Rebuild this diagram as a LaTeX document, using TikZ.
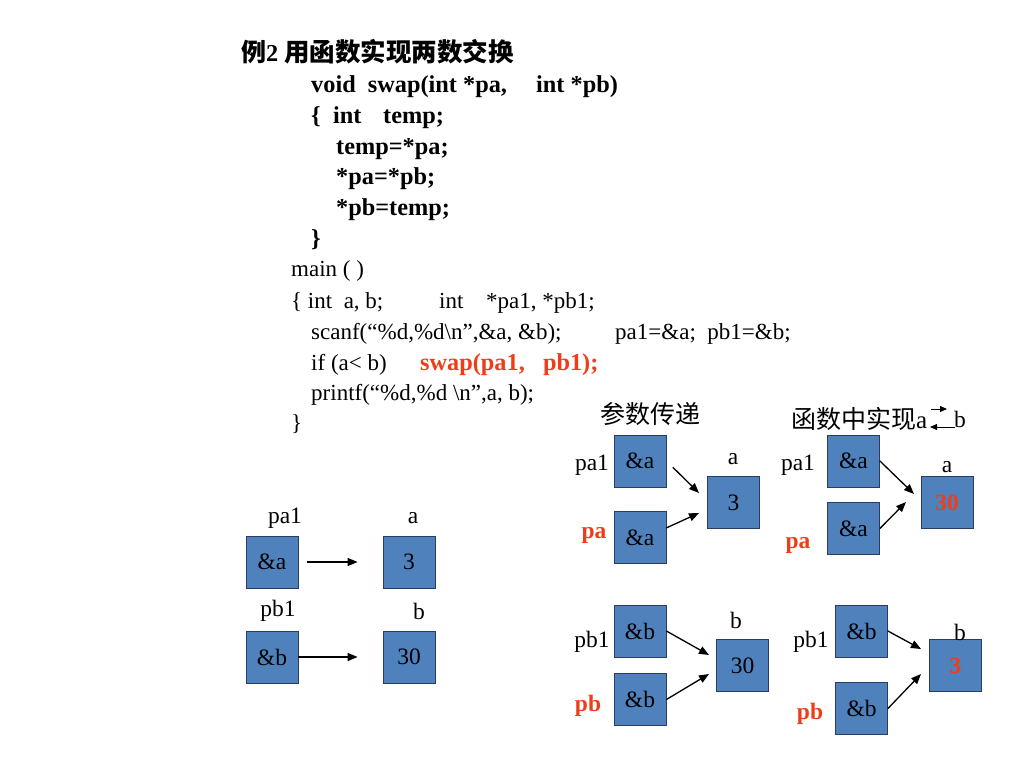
\documentclass[tikz,border=0pt]{standalone}
\usepackage{fontspec}
\setmainfont{Liberation Serif}
\newfontfamily\cjk{Noto Sans CJK SC}
\usetikzlibrary{arrows.meta}
\definecolor{boxblue}{RGB}{79,129,189}
\definecolor{boxedge}{RGB}{40,60,100}
\definecolor{hired}{RGB}{240,60,25}
\tikzset{
  code/.style={anchor=base west,inner sep=0pt,font=\fontsize{23}{28}\selectfont},
  bcode/.style={code,font=\fontsize{24.3}{28}\selectfont\bfseries},
  rcode/.style={bcode,text=hired},
  cell/.style={draw=boxedge,line width=0.8pt,fill=boxblue,minimum size=52pt,inner sep=0pt,font=\fontsize{23.5}{28}\selectfont},
  lbl/.style={inner sep=0pt,font=\fontsize{23.5}{28}\selectfont},
  rlbl/.style={lbl,font=\fontsize{23.5}{28}\selectfont\bfseries,text=hired},
  redval/.style={font=\fontsize{23.5}{28}\selectfont\bfseries,text=hired},
  arr/.style={-{Triangle[length=10pt,width=8pt]},line width=1.3pt},
  swarr/.style={-{Triangle[length=7pt,width=6pt]},line width=1pt},
  heading/.style={inner sep=0pt,font=\fontsize{25}{28}\selectfont},
}
\begin{document}
\begin{tikzpicture}[x=1pt,y=-1pt]
\useasboundingbox (0,0) rectangle (1024,768);
% code
\node[code] (title) at (241,62) {{\fontsize{25}{28}\selectfont\cjk\bfseries 例}{\fontsize{24.3}{28}\selectfont\bfseries 2 }{\fontsize{25.5}{28}\selectfont\cjk\bfseries 用函数实现两数交换}};
\node[bcode] (l1a) at (311,92) {void\ \ swap(int *pa,};
\node[bcode] (l1b) at (536,92) {int *pb)};
\node[bcode] (l2a) at (311,123) {\{};
\node[bcode] (l2b) at (333,123) {int};
\node[bcode] (l2c) at (383,123) {temp;};
\node[bcode] (l3) at (336,154) {temp=*pa;};
\node[bcode] (l4) at (336,184) {*pa=*pb;};
\node[bcode] (l5) at (336,215) {*pb=temp;};
\node[bcode] (l6) at (311,246) {\}};
\node[code] (l7) at (291,276) {main ( )};
\node[code] (l8a) at (291,308) {\{ int\ \ a, b;};
\node[code] (l8b) at (439,308) {int};
\node[code] (l8c) at (486,308) {*pa1, *pb1;};
\node[code] (l9a) at (311,339) {scanf(“\%d,\%d\textbackslash n”,\&a, \&b);};
\node[code] (l9b) at (615,339) {pa1=\&a;\ \ pb1=\&b;};
\node[code] (l10a) at (311,370) {if (a< b)};
\node[rcode] (l10b) at (420,370) {swap(pa1,\ \ \ pb1);};
\node[code] (l11) at (311,400) {printf(“\%d,\%d \textbackslash n”,a, b);};
\node[code] (l12) at (291,430) {\}};

% left group
\node[cell] (la) at (272,562) {\&a};
\node[cell] (lv3) at (409,562) {3};
\node[cell] (lb) at (272,657) {\&b};
\node[cell] (lv30) at (409,657) {30};
\node[lbl] (lpa1) at (285,518) {pa1};
\node[lbl] (lla) at (413,518) {a};
\node[lbl] (lpb1) at (278,611) {pb1};
\node[lbl] (llb) at (419,611) {b};
\draw[arr,shorten <=9pt,shorten >=25pt] (la.east) -- (lv3.west);
\draw[arr,shorten >=25pt] (lb.east) -- (lv30.west);

% headings
\node[heading] (h1) at (650,414) {\cjk 参数传递};
\node[heading,anchor=west] (h2) at (791,419) {{\cjk 函数中实现}a};
\node[lbl,anchor=west] (h2b) at (954,419) {b};
\coordinate (sw1) at (931,409);
\coordinate (sw2) at (947,409);
\coordinate (sw3) at (955,427);
\coordinate (sw4) at (930,427);
\draw[swarr] (sw1) -- (sw2);
\draw[swarr] (sw3) -- (sw4);

% top-middle group
\node[cell] (m1a) at (640,461) {\&a};
\node[cell] (m1b) at (640,537.5) {\&a};
\node[cell] (m1v) at (733.5,502.5) {3};
\node[lbl] (m1l1) at (592,465) {pa1};
\node[rlbl] (m1l2) at (594,535) {pa};
\node[lbl] (m1la) at (733,459) {a};
\coordinate (m1t1) at (699,493);
\coordinate (m1t2) at (699,513);
\draw[arr,shorten <=9pt] (m1a.east) -- (m1t1);
\draw[arr] (m1b.20) -- (m1t2);

% top-right group
\node[cell] (r1a) at (853.5,461) {\&a};
\node[cell] (r1b) at (853.5,528.5) {\&a};
\node[cell,redval] (r1v) at (947,502.5) {30};
\node[lbl] (r1l1) at (798,465) {pa1};
\node[rlbl] (r1l2) at (798,545) {pa};
\node[lbl] (r1la) at (947,467) {a};
\coordinate (r1t1) at (914,494);
\coordinate (r1t2) at (906,502);
\draw[arr] (r1a.east) -- (r1t1);
\draw[arr] (r1b.east) -- (r1t2);

% bottom-middle group
\node[cell] (b1a) at (640,631) {\&b};
\node[cell] (b1b) at (640,699.5) {\&b};
\node[cell] (b1v) at (742.5,665.5) {30};
\node[lbl] (b1l1) at (592,642) {pb1};
\node[rlbl] (b1l2) at (588,706) {pb};
\node[lbl] (b1lb) at (736,620) {b};
\coordinate (b1t1) at (709,655);
\coordinate (b1t2) at (709,674);
\draw[arr] (b1a.east) -- (b1t1);
\draw[arr] (b1b.east) -- (b1t2);

% bottom-right group
\node[cell] (b2a) at (861.5,631) {\&b};
\node[cell] (b2b) at (861.5,708.5) {\&b};
\node[cell,redval] (b2v) at (955.5,665.5) {3};
\node[lbl] (b2l1) at (811,642) {pb1};
\node[rlbl] (b2l2) at (810,714) {pb};
\node[lbl] (b2lb) at (960,632) {b};
\coordinate (b2t1) at (921,649);
\coordinate (b2t2) at (921,674);
\draw[arr] (b2a.east) -- (b2t1);
\draw[arr] (b2b.east) -- (b2t2);
\end{tikzpicture}
\end{document}
